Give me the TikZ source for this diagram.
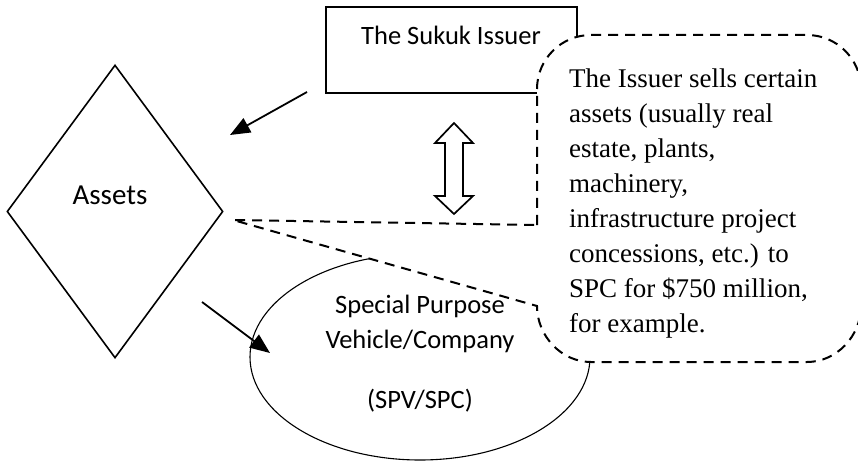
\documentclass[tikz,border=0pt]{standalone}
\usepackage{fontspec}
\setmainfont{Liberation Serif}
\newfontfamily\calibrifont{Carlito}
\usetikzlibrary{shapes.geometric,arrows.meta}
\tikzset{
  lbl/.style={font=\calibrifont\fontsize{26.5}{35}\selectfont, align=center, inner sep=0pt},
  notetext/.style={font=\fontsize{27}{35}\selectfont, align=left, inner sep=0pt},
  flowarrow/.style={line width=1.8pt, -{Triangle[length=20pt,width=16pt]}},
  dashline/.style={line width=2pt, dash pattern=on 10pt off 7pt},
}
\begin{document}
\begin{tikzpicture}[x=1pt,y=-1pt]
\useasboundingbox (0,0) rectangle (858,462);
% shapes
\node[diamond, draw, line width=1.6pt, minimum width=216pt, minimum height=293pt, inner sep=0pt] (assets) at (115,211.5) {};
\node[lbl, font=\calibrifont\fontsize{29}{35}\selectfont] (assetstext) at (110,195) {Assets};
\node[ellipse, draw, line width=1.1pt, minimum width=340pt, minimum height=206pt] (spv) at (420,357) {};
\node[draw, line width=1.5pt, minimum width=251pt, minimum height=86pt] (issuer) at (451.5,50) {};
\node[lbl] (issuertext) at (451,35) {The Sukuk Issuer};

% callout
\coordinate (tip) at (233,220);
\draw[dashline, fill=white] (537,225) -- (537,89) .. controls (537,59.2) and (561.2,35) .. (591,35)
  -- (807,35) .. controls (836.8,35) and (861,59.2) .. (861,89)
  -- (861,306) .. controls (861,335.8) and (836.8,362) .. (807,362)
  -- (591,362) .. controls (561.2,362) and (537,335.8) .. (537,306) -- (tip) -- cycle;
\node[notetext, anchor=north west] (note) at (569,68.6) {The Issuer sells certain\\assets (usually real\\estate, plants,\\machinery,\\infrastructure project\\concessions, etc.) to\\SPC for \$750 million,\\for example.};
\node[lbl] (spvtext) at (420,354) {Special Purpose\\Vehicle/Company\\[25pt](SPV/SPC)};

% up-down arrow
\draw[line width=1.7pt] (454,123) -- (473,143) -- (463,143) -- (463,196) -- (473,196) -- (454,214)
  -- (435,196) -- (445,196) -- (445,143) -- (435,143) -- cycle;

% arrows
\coordinate (a1) at (307,92);
\coordinate (a1e) at (230,135);
\coordinate (a2) at (202,302);
\coordinate (a2e) at (270,353);
\draw[flowarrow] (a1) -- (a1e);
\draw[flowarrow] (a2) -- (a2e);
\end{tikzpicture}
\end{document}
